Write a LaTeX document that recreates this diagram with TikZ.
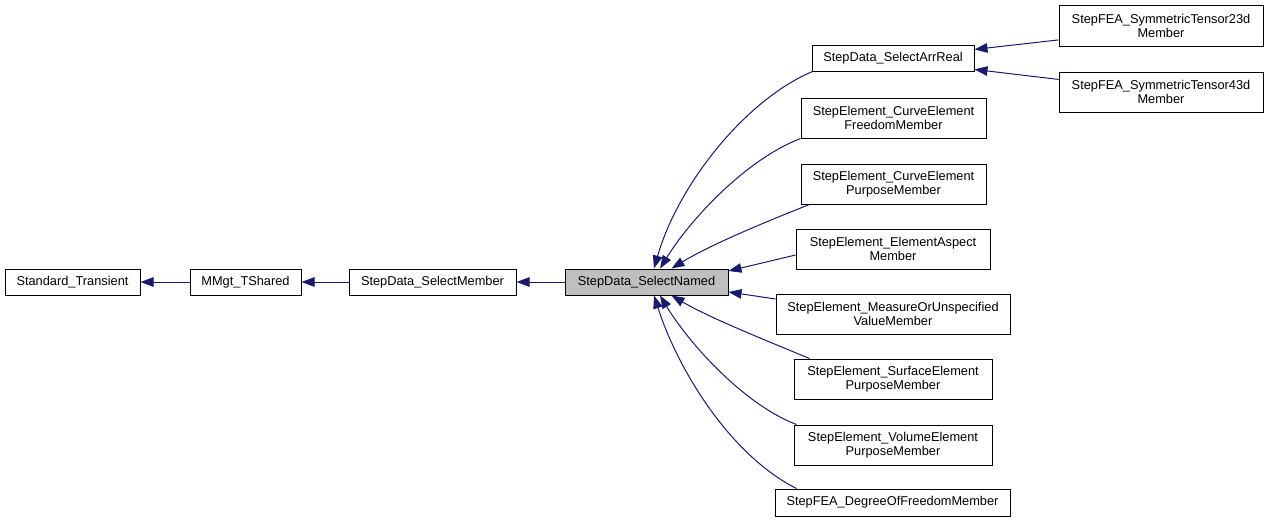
\documentclass[tikz,border=0pt]{standalone}
\usepackage{fontspec}
\setmainfont{Liberation Sans}
\usetikzlibrary{arrows.meta}
\definecolor{edgeblue}{HTML}{191970}
\tikzset{
  box/.style={draw=black, line width=1pt, fill=white, inner sep=0pt, align=center,
    font=\fontsize{12.8}{14}\selectfont, minimum height=26pt},
  tall/.style={minimum height=40pt},
  edge/.style={draw=edgeblue, line width=1pt, -{Triangle[length=13pt,width=9.5pt]}},
}
\begin{document}
\begin{tikzpicture}[x=1pt,y=-1pt]
\useasboundingbox (0,0) rectangle (1269,523);
% nodes
\node[box, minimum width=135pt] (ST) at (72.5,282) {Standard\_Transient};
\node[box, minimum width=111pt] (MM) at (245.5,282) {MMgt\_TShared};
\node[box, minimum width=167pt] (SM) at (432.5,282) {StepData\_SelectMember};
\node[box, minimum width=163pt, fill={rgb,255:red,191;green,191;blue,191}] (SN) at (646.5,282) {StepData\_SelectNamed};
\node[box, minimum width=162pt] (AR) at (893,58) {StepData\_SelectArrReal};
\node[box, tall, minimum width=204pt, minimum height=41pt] (T23) at (1161,25.5) {StepFEA\_SymmetricTensor23d\\Member};
\node[box, tall, minimum width=204pt] (T43) at (1161,92) {StepFEA\_SymmetricTensor43d\\Member};
\node[box, tall, minimum width=185pt] (CF) at (893.5,118) {StepElement\_CurveElement\\FreedomMember};
\node[box, tall, minimum width=185pt] (CP) at (893.5,184) {StepElement\_CurveElement\\PurposeMember};
\node[box, tall, minimum width=194pt] (EA) at (893,249) {StepElement\_ElementAspect\\Member};
\node[box, tall, minimum width=234pt] (MU) at (893,314) {StepElement\_MeasureOrUnspecified\\ValueMember};
\node[box, tall, minimum width=198pt] (SE) at (893,379) {StepElement\_SurfaceElement\\PurposeMember};
\node[box, tall, minimum width=198pt] (VE) at (893,445) {StepElement\_VolumeElement\\PurposeMember};
\node[box, minimum width=235pt, minimum height=27pt] (DF) at (892.5,502.5) {StepFEA\_DegreeOfFreedomMember};
% edges
\draw[edge] (MM.west) -- (ST.east);
\draw[edge] (SM.west) -- (MM.east);
\draw[edge] (SN.west) -- (SM.east);
\draw[edge] (T23.188) -- (AR.6);
\draw[edge] (T43.173) -- (AR.-8);
\draw[edge] ([xshift=1pt]AR.south west) .. controls (745,100) and (678,185) .. ([xshift=7.5pt]SN.north);
\draw[edge] ([xshift=0pt]CF.south west) .. controls (745,160) and (690,220) .. ([xshift=13.5pt]SN.north);
\draw[edge] ([xshift=9pt]CP.south west) .. controls (765,222) and (710,245) .. ([xshift=25pt]SN.north);
\draw[edge] ([yshift=-6pt]EA.west) -- ([yshift=11pt]SN.east);
\draw[edge] ([yshift=15pt]MU.west) -- ([yshift=-10pt]SN.east);
\draw[edge] ([xshift=16pt]SE.north west) .. controls (765,340) and (710,318) .. ([xshift=25pt]SN.south);
\draw[edge] ([xshift=3pt]VE.north west) .. controls (745,405) and (690,345) .. ([xshift=13.5pt]SN.south);
\draw[edge] ([xshift=22pt]DF.north west) .. controls (730,455) and (678,370) .. ([xshift=7.5pt]SN.south);
\end{tikzpicture}
\end{document}
